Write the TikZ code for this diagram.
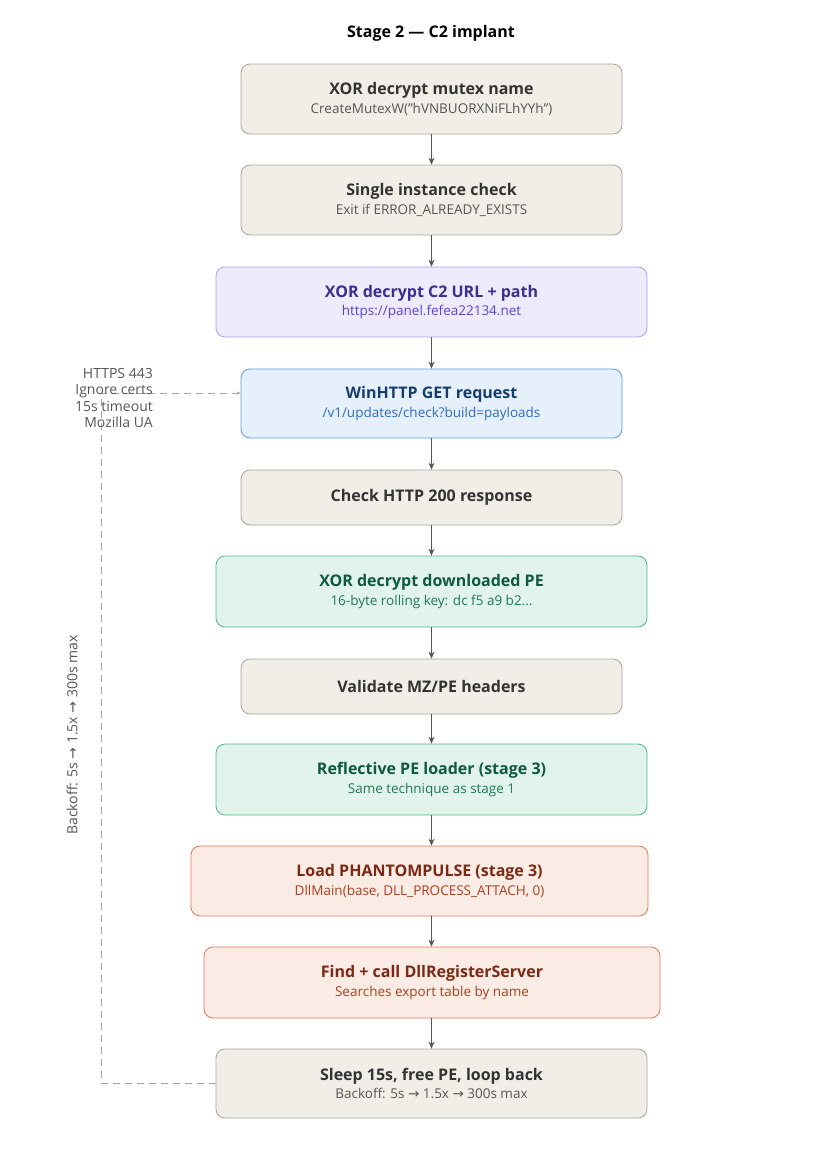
\documentclass[tikz,border=0pt]{standalone}
\usepackage{fontspec}
\setmainfont{Open Sans}
\newfontfamily\symfont{DejaVu Sans}
\newcommand{\ar}{{\symfont\char"2192}}
\usetikzlibrary{arrows.meta}
\definecolor{gFill}{HTML}{F1EEE8}\definecolor{gLine}{HTML}{A8A49C}
\definecolor{gHead}{HTML}{333333}\definecolor{gSub}{HTML}{555555}
\definecolor{pFill}{HTML}{EEEBFC}\definecolor{pLine}{HTML}{A99EF0}
\definecolor{pHead}{HTML}{3C2F8F}\definecolor{pSub}{HTML}{5A45C9}
\definecolor{bFill}{HTML}{E6F0FB}\definecolor{bLine}{HTML}{5C9BE0}
\definecolor{bHead}{HTML}{153E6E}\definecolor{bSub}{HTML}{2D6BBF}
\definecolor{tFill}{HTML}{E1F3EC}\definecolor{tLine}{HTML}{4FB58A}
\definecolor{tHead}{HTML}{0F5A3E}\definecolor{tSub}{HTML}{1F7A55}
\definecolor{rFill}{HTML}{FBEBE5}\definecolor{rLine}{HTML}{E07A5A}
\definecolor{rHead}{HTML}{7A2A14}\definecolor{rSub}{HTML}{A8401F}
\newcommand{\boxtext}[4]{{\fontsize{16}{19}\selectfont\bfseries\color{#1}#3}\\[3pt]{\fontsize{13.5}{16}\selectfont\color{#2}#4}}
\tikzset{
  stage/.style={rounded corners=9pt, line width=0.8pt, align=center, inner sep=0pt},
  grey/.style={stage, fill=gFill, draw=gLine},
  purple/.style={stage, fill=pFill, draw=pLine},
  blue/.style={stage, fill=bFill, draw=bLine},
  green/.style={stage, fill=tFill, draw=tLine},
  red/.style={stage, fill=rFill, draw=rLine},
  flow/.style={-{Stealth[length=7pt,width=6pt]}, draw=gSub, line width=0.9pt},
  loop/.style={draw=gLine, dash pattern=on 7pt off 5pt, line width=0.8pt}
}
\begin{document}
\begin{tikzpicture}[x=1pt,y=-1pt]
    \useasboundingbox (0,0) rectangle (834,1168);
    \node[font=\fontsize{16}{19}\selectfont\bfseries, text=black] (title) at (431,33) {Stage 2 — C2 implant};

    % main chain
    \node[grey, minimum width=381pt, minimum height=70pt] (mutex) at (431.5,99)
    {\boxtext{gHead}{gSub}{XOR decrypt mutex name}{CreateMutexW("hVNBUORXNiFLhYYh")}};
    \node[grey, minimum width=381pt, minimum height=70pt] (single) at (431.5,200)
    {\boxtext{gHead}{gSub}{Single instance check}{Exit if ERROR\_ALREADY\_EXISTS}};
    \node[purple, minimum width=431pt, minimum height=70pt] (c2url) at (431.5,302)
    {\boxtext{pHead}{pSub}{XOR decrypt C2 URL + path}{https://panel.fefea22134.net}};
    \node[blue, minimum width=381pt, minimum height=69pt] (winhttp) at (431.5,403.5)
    {\boxtext{bHead}{bSub}{WinHTTP GET request}{/v1/updates/check?build=payloads}};
    \node[grey, minimum width=381pt, minimum height=55pt, font=\fontsize{16}{19}\selectfont\bfseries, text=gHead] (http200) at (431.5,497.5)
    {Check HTTP 200 response};
    \node[green, minimum width=431pt, minimum height=71pt] (xorpe) at (431.5,591.5)
    {\boxtext{tHead}{tSub}{XOR decrypt downloaded PE}{16-byte rolling key: dc f5 a9 b2...}};
    \node[grey, minimum width=381pt, minimum height=55pt, font=\fontsize{16}{19}\selectfont\bfseries, text=gHead] (mzpe) at (431.5,686.5)
    {Validate MZ/PE headers};
    \node[green, minimum width=431pt, minimum height=71pt] (reflect) at (431.5,779.5)
    {\boxtext{tHead}{tSub}{Reflective PE loader (stage 3)}{Same technique as stage 1}};
    \node[red, minimum width=457pt, minimum height=70pt] (phantom) at (419.5,881)
    {\boxtext{rHead}{rSub}{Load PHANTOMPULSE (stage 3)}{DllMain(base, DLL\_PROCESS\_ATTACH, 0)}};
    \node[red, minimum width=456pt, minimum height=71pt] (dllreg) at (432,982.5)
    {\boxtext{rHead}{rSub}{Find + call DllRegisterServer}{Searches export table by name}};
    \node[grey, minimum width=431pt, minimum height=69pt] (sleep) at (431.5,1083.5)
    {\boxtext{gHead}{gSub}{Sleep 15s, free PE, loop back}{Backoff: 5s \ar{} 1.5x \ar{} 300s max}};

    \foreach \a/\b in {mutex/single, single/c2url, c2url/winhttp, winhttp/http200,
                       http200/xorpe, xorpe/mzpe, mzpe/reflect, reflect/phantom,
                       phantom/dllreg, dllreg/sleep}
        \draw[flow] (\a.south -| 431.5,0) -- (\b.north -| 431.5,0);

    % retry loop
    \coordinate (loopbot) at (101,1083.5);
    \coordinate (looptop) at (101,393);
    \draw[loop, -{Stealth[length=4pt,width=3pt]}] (sleep.west) -- (loopbot) -- (looptop)
        -- ([yshift=10.5pt]winhttp.west);
    \node[align=right, anchor=east, font=\fontsize{14}{16.5}\selectfont, text=gSub,
          inner sep=0pt] (opts) at (153,398)
    {HTTPS 443\\Ignore certs\\15s timeout\\Mozilla UA};
    \node[rotate=90, font=\fontsize{14}{16.5}\selectfont, text=gSub,
          inner sep=2pt] (backoff) at (72,735) {Backoff: 5s \ar{} 1.5x \ar{} 300s max};
\end{tikzpicture}
\end{document}
